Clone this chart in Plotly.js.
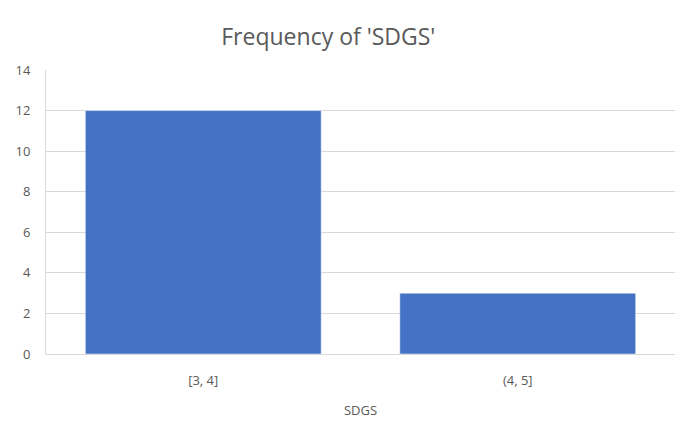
<!DOCTYPE html>
<html>
<head>
<meta charset="utf-8">
<script src="https://cdn.plot.ly/plotly-3.0.1.min.js"></script>
<style>html,body{margin:0;padding:0;background:#fff;}#chart{width:677px;height:432px;}</style>
</head>
<body>
<div id="chart"></div>
<script>
const categories = ["[3, 4]", "(4, 5]"];
const counts = [12, 3];
const yTicks = [0, 2, 4, 6, 8, 10, 12, 14];

const font = "'Open Sans', 'Liberation Sans Narrow', sans-serif";
Plotly.newPlot('chart', [{
  type: 'bar',
  x: categories,
  y: counts,
  marker: {color: '#4472C4', line: {color: '#ffffff', width: 0.5}},
  hoverinfo: 'x+y'
}], {
  width: 677, height: 432,
  margin: {l: 46, r: 2, t: 70, b: 78},
  paper_bgcolor: '#ffffff', plot_bgcolor: '#ffffff',
  bargap: 0.25,
  font: {family: font, color: '#595959', size: 13},
  title: {text: "Frequency of 'SDGS'", font: {family: font, size: 23, color: '#595959'}, x: 0.485, xanchor: 'center', y: 0.915, yanchor: 'middle'},
  xaxis: {
    type: 'category',
    title: {text: 'SDGS', font: {family: font, size: 13, color: '#595959'}, standoff: 18},
    showline: true, linecolor: '#d9d9d9', linewidth: 1,
    ticks: '', ticklabelstandoff: 14, tickfont: {size: 13, color: '#595959'},
    showgrid: false
  },
  yaxis: {
    range: [0, 14],
    tickvals: yTicks,
    ticktext: yTicks.map(String),
    showgrid: true, gridcolor: '#d9d9d9', gridwidth: 1,
    zeroline: false,
    showline: true, linecolor: '#d9d9d9', linewidth: 1,
    ticks: '', ticklabelstandoff: 12,
    tickfont: {size: 13, color: '#595959'}
  },
  showlegend: false
}, {displayModeBar: false, staticPlot: true});
</script>
</body>
</html>
